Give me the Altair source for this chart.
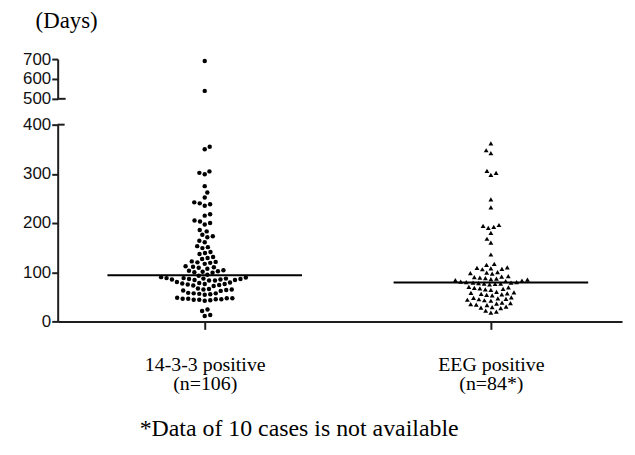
import altair as alt
import pandas as pd
import numpy as np

# ---------------- data ----------------
groups = ["14-3-3 positive", "EEG positive"]
group_n = ["(n=106)", "(n=84*)"]
group_shapes = ["circle", "triangle-up"]
footnote = "*Data of 10 cases is not available"
y_title = "(Days)"
upper_ticks = [500, 600, 700]
lower_ticks = [0, 100, 200, 300, 400]

days_1433 = [690, 540, 355, 350, 305, 302, 299, 275, 262, 252, 242, 240, 238, 235,
             218, 215, 205, 203, 200, 197, 186, 183, 176, 173, 171, 164, 161, 153,
             151, 149, 141, 139, 137, 131, 129, 127, 122, 121, 120, 119, 117, 112,
             111, 110, 109, 107, 104, 103, 102, 101, 100, 99, 95, 93, 90, 89, 88, 88,
             87, 87, 86, 86, 85, 85, 84, 84, 83, 83, 80, 79, 78, 77, 76, 76, 75, 74,
             73, 72, 67, 66, 65, 65, 64, 63, 62, 58, 57, 57, 56, 55, 54, 48, 47, 47,
             46, 46, 45, 45, 44, 44, 43, 42, 24, 21, 13, 11]

days_eeg = [362, 348, 342, 306, 302, 298, 248, 232, 196, 194, 192, 190, 180, 168,
            160, 136, 117, 115, 110, 109, 108, 107, 106, 100, 99, 98, 97, 92, 91, 90,
            89, 88, 87, 86, 85, 84, 83, 82, 81, 80, 80, 79, 79, 78, 77, 77, 76, 75,
            70, 69, 68, 67, 66, 65, 64, 60, 59, 58, 57, 56, 55, 54, 53, 49, 48, 47,
            46, 45, 44, 43, 42, 38, 37, 36, 35, 34, 33, 30, 29, 28, 27, 22, 20, 18]

# ---------------- layout ----------------
W = 568
H_LOW = 198
H_UP = 40
LOW_MAX = lower_ticks[-1]
UP_MIN, UP_MAX = upper_ticks[0], upper_ticks[-1]
PX_PER_UNIT = 288.0
X_LO = 1 - 148 / PX_PER_UNIT
X_HI = X_LO + W / PX_PER_UNIT
HALF_MED = 0.34
DOT_D = 5.6
SERIF = "Liberation Serif"


def swarm(values, d=DOT_D):
    ys = [v * H_LOW / LOW_MAX if v <= LOW_MAX
          else 1000 + (v - UP_MIN) * H_UP / (UP_MAX - UP_MIN) for v in values]
    order = sorted(range(len(ys)), key=lambda i: ys[i])
    placed = []
    xs = [0.0] * len(ys)
    for k, i in enumerate(order):
        y = ys[i]
        neigh = [(px, py) for px, py in placed if abs(py - y) < d]
        cands = [0.0]
        for px, py in neigh:
            dx = (d * d - (py - y) ** 2) ** 0.5
            cands += [px + dx, px - dx]
        ok = [c for c in cands
              if all((c - px) ** 2 + (y - py) ** 2 >= d * d - 1e-6 for px, py in neigh)]
        sgn = 1 if k % 2 == 0 else -1
        best = min(ok, key=lambda c: (round(abs(c), 6), sgn * c))
        xs[i] = best
        placed.append((best, y))
    return xs


rows = []
for gi, vals in enumerate([days_1433, days_eeg]):
    offs = swarm(vals)
    for v, o in zip(vals, offs):
        rows.append({"grp": groups[gi], "value": v, "xpos": gi + 1 + o / PX_PER_UNIT})
df = pd.DataFrame(rows)

med = pd.DataFrame({
    "grp": groups,
    "median": [float(np.median(days_1433)), float(np.median(days_eeg))],
    "x1": [1 - HALF_MED, 2 - HALF_MED],
    "x2": [1 + HALF_MED, 2 + HALF_MED],
})

x_scale = alt.Scale(domain=[X_LO, X_HI], nice=False, zero=False)
shape_scale = alt.Scale(domain=groups, range=group_shapes)
size_scale = alt.Scale(domain=groups, range=[20, 24])

AX_COL = "#1e1e1e"
label_expr = (f"datum.value == 1 ? ['{groups[0]}', '{group_n[0]}'] : "
              f"['{groups[1]}', '{group_n[1]}']")

x_axis = alt.Axis(values=[1, 2], labelExpr=label_expr, tickSize=8,
                  labelPadding=25, labelBaseline="top", labelOverlap=False,
                  labelFont=SERIF, labelFontSize=20, labelLineHeight=20,
                  labelColor="black", title=None)
y_up_axis = alt.Axis(values=upper_ticks, labelOverlap=False, title=None)
y_low_axis = alt.Axis(values=lower_ticks, labelOverlap=False, title=None)

# ---------------- upper panel (500-700) ----------------
y_up = alt.Scale(domain=[UP_MIN, UP_MAX], nice=False, zero=False)
up_pts = alt.Chart(df).transform_filter(alt.datum.value >= UP_MIN).mark_point(
    filled=True, color="black", opacity=1
).encode(
    x=alt.X("xpos:Q", scale=x_scale, axis=None),
    y=alt.Y("value:Q", scale=y_up, axis=y_up_axis),
    shape=alt.Shape("grp:N", scale=shape_scale, legend=None),
    size=alt.Size("grp:N", scale=size_scale, legend=None),
)
# axis-break cap at the bottom end of the upper axis segment
up_cap = alt.Chart(pd.DataFrame({"v": [UP_MIN]})).mark_rule(
    color=AX_COL, strokeWidth=2
).encode(x=alt.value(0), x2=alt.value(8), y=alt.value(H_UP))
days_txt = alt.Chart(pd.DataFrame({"t": [y_title]})).mark_text(
    font=SERIF, fontSize=23, color="black", align="center", baseline="alphabetic"
).encode(text="t:N", x=alt.value(9), y=alt.value(-31))
top = alt.layer(up_pts, up_cap, days_txt).properties(width=W, height=H_UP)

# ---------------- lower panel (0-400) ----------------
y_low = alt.Scale(domain=[0, LOW_MAX], nice=False, zero=False)
low_pts = alt.Chart(df).transform_filter(alt.datum.value <= LOW_MAX).mark_point(
    filled=True, color="black", opacity=1
).encode(
    x=alt.X("xpos:Q", scale=x_scale, axis=x_axis),
    y=alt.Y("value:Q", scale=y_low, axis=y_low_axis),
    shape=alt.Shape("grp:N", scale=shape_scale, legend=None),
    size=alt.Size("grp:N", scale=size_scale, legend=None),
)
med_rule = alt.Chart(med).mark_rule(color="black", strokeWidth=2).encode(
    x=alt.X("x1:Q", scale=x_scale, axis=x_axis), x2="x2:Q",
    y=alt.Y("median:Q", scale=y_low, axis=y_low_axis),
)
# axis-break cap at the top end of the lower axis segment
low_cap = alt.Chart(pd.DataFrame({"v": [LOW_MAX]})).mark_rule(
    color=AX_COL, strokeWidth=2
).encode(x=alt.value(0), x2=alt.value(7), y=alt.value(0))
foot_txt = alt.Chart(pd.DataFrame({"t": [footnote]})).mark_text(
    font=SERIF, fontSize=24, color="black", align="center", baseline="alphabetic"
).encode(text="t:N", x=alt.value(243), y=alt.value(H_LOW + 115))
bottom = alt.layer(low_pts, med_rule, low_cap, foot_txt).properties(
    width=W, height=H_LOW)

chart = alt.vconcat(top, bottom, spacing=26, bounds="flush").properties(
    padding={"left": 14, "top": 1, "right": 5, "bottom": 5}
).configure_view(stroke=None).configure_axis(
    grid=False, domainColor=AX_COL, domainWidth=2, tickColor=AX_COL, tickWidth=2,
    tickSize=6, labelPadding=1, labelFont="Liberation Sans", labelFontSize=17,
    labelColor="#111"
)

chart.save("out.html", embed_options={"renderer": "svg", "actions": False})
